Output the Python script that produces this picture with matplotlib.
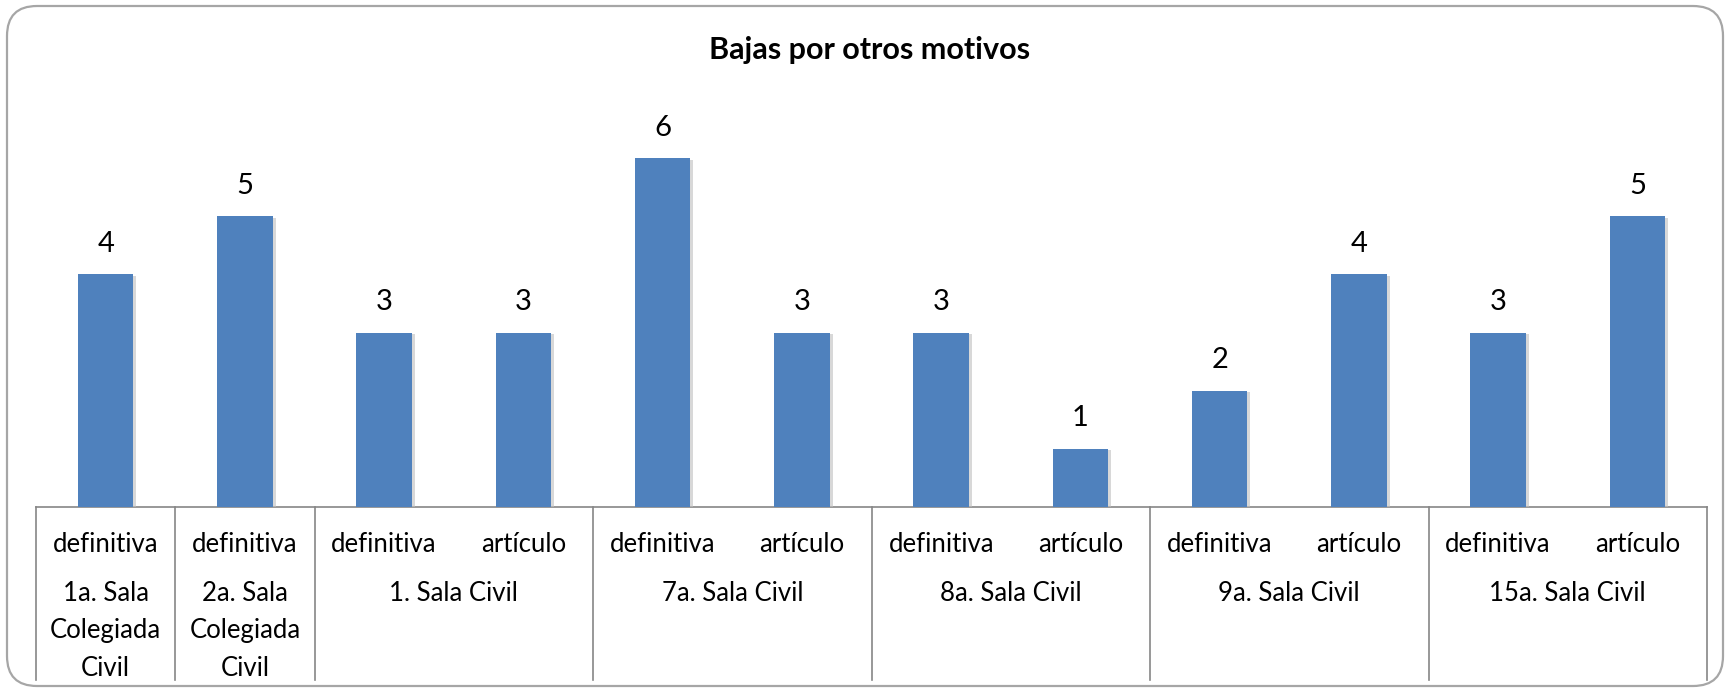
import matplotlib.pyplot as plt
from matplotlib.patches import FancyBboxPatch
import matplotlib.patheffects as pe
from matplotlib.transforms import IdentityTransform

# data
sub_labels = ['definitiva', 'definitiva', 'definitiva', 'artículo', 'definitiva', 'artículo',
              'definitiva', 'artículo', 'definitiva', 'artículo', 'definitiva', 'artículo']
values = [4, 5, 3, 3, 6, 3, 3, 1, 2, 4, 3, 5]
groups = ['1a. Sala\nColegiada\nCivil', '2a. Sala\nColegiada\nCivil', '1. Sala Civil',
          '7a. Sala Civil', '8a. Sala Civil', '9a. Sala Civil', '15a. Sala Civil']
group_sizes = [1, 1, 2, 2, 2, 2, 2]

plt.rcParams['font.family'] = ['Lato', 'DejaVu Sans']

W, H = 1729, 689
fig = plt.figure(figsize=(W/100, H/100), dpi=100)

# rounded frame around the chart (pixel coordinates)
frame = FancyBboxPatch((7, 3), 1716, 680, boxstyle='round,pad=0,rounding_size=30',
                       transform=IdentityTransform(), fill=False, ec='#a6a6a6', lw=1.6)
fig.patches.append(frame)

ax = fig.add_axes([36/W, 1-507/H, (1707-36)/W, 407/H])
x = list(range(len(values)))
bars = ax.bar(x, values, width=0.4, color='#4f81bd', zorder=3)
for b in bars:
    b.set_path_effects([pe.SimplePatchShadow(offset=(2, -1), shadow_rgbFace='#bfbfbf', alpha=0.6), pe.Normal()])
    ax.annotate(str(int(b.get_height())), (b.get_x()+b.get_width()/2, b.get_height()),
                xytext=(0, 22), textcoords='offset points', ha='center', va='center', fontsize=21)

ax.set_xlim(-0.5, len(values)-0.5)
ax.set_ylim(0, 7)
for s in ['top', 'right', 'left']:
    ax.spines[s].set_visible(False)
ax.spines['bottom'].set_color('#868686')
ax.spines['bottom'].set_linewidth(1.2)
ax.set_xticks([])
ax.set_yticks([])

trans = ax.get_xaxis_transform()
px = 1/407
for i, lab in enumerate(sub_labels):
    ax.text(i, -38*px, lab, transform=trans, ha='center', va='center', fontsize=18.5)

start = 0
bottom = -(680-507)*px
ax.plot([-0.5, -0.5], [0, bottom], transform=trans, color='#868686', lw=1.2, clip_on=False)
for g, n in zip(groups, group_sizes):
    c = start + (n-1)/2
    ax.text(c, -74*px, g, transform=trans, ha='center', va='top', fontsize=18.5, linespacing=1.62)
    start += n
    ax.plot([start-0.5, start-0.5], [0, bottom], transform=trans, color='#868686', lw=1.2, clip_on=False)

fig.text(870/W, 1-50/H, 'Bajas por otros motivos', ha='center', va='center',
         fontsize=22, fontweight='bold')

fig.savefig('out.png', dpi=100)
